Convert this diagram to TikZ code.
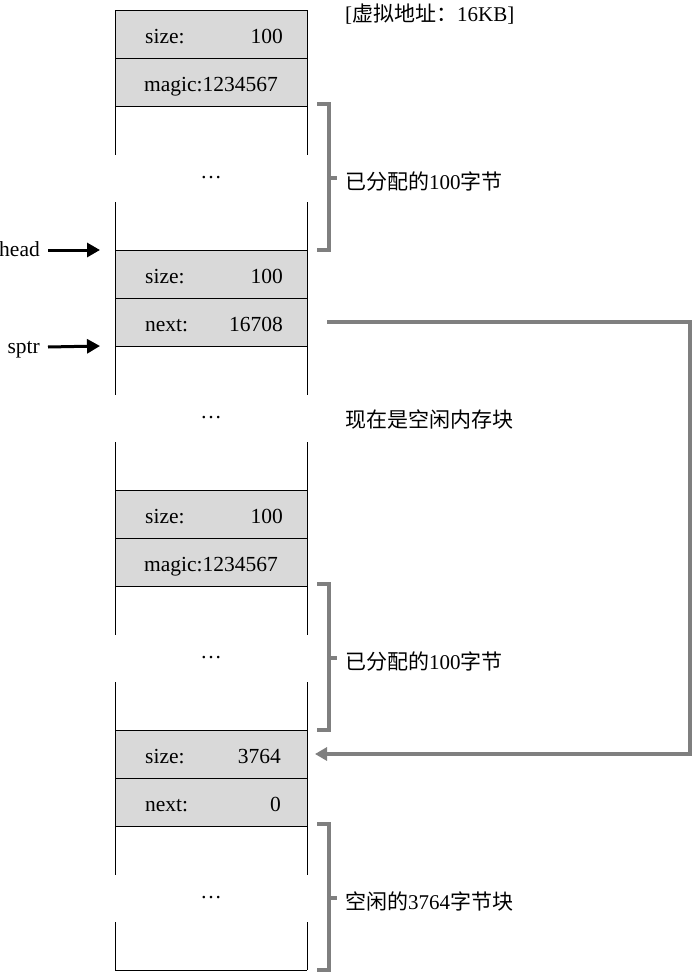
\documentclass[tikz,border=0pt]{standalone}
\usepackage{fontspec}
\setmainfont{Liberation Serif}
\newfontfamily\cjk{Noto Sans CJK SC}
\usetikzlibrary{arrows.meta}
\definecolor{cellgray}{HTML}{D9D9D9}
\definecolor{linegray}{HTML}{7F7F7F}
\begin{document}
\begin{tikzpicture}[x=1pt,y=-1pt,
  cell/.style={draw=black, line width=0.8pt, fill=cellgray, minimum width=192pt, minimum height=48pt, inner sep=0pt, outer sep=0pt},
  gapbox/.style={minimum width=192pt, minimum height=144pt, inner sep=0pt, outer sep=0pt},
  side/.style={draw=black, line width=0.8pt},
  txt/.style={font=\fontsize{21.5}{24}\selectfont, inner sep=0pt},
  lbl/.style={font=\fontsize{21}{24}\selectfont, inner sep=0pt, anchor=base west},
  ptr/.style={draw=black, line width=3pt, -{Triangle[length=13pt,width=14pt]}},
  brk/.style={draw=linegray, line width=4.5pt},
  conn/.style={draw=linegray, line width=4.5pt, -{Triangle[length=12pt,width=13pt]}}]
\useasboundingbox (0,0) rectangle (694,974);

% column of memory
\node[cell] (r1) at (211,34) {};
\node[cell] (r2) at (211,82) {};
\node[gapbox] (w1) at (211,178) {};
\node[cell] (r3) at (211,274) {};
\node[cell] (r4) at (211,322) {};
\node[gapbox] (w2) at (211,418) {};
\node[cell] (r5) at (211,514) {};
\node[cell] (r6) at (211,562) {};
\node[gapbox] (w3) at (211,658) {};
\node[cell] (r7) at (211,754) {};
\node[cell] (r8) at (211,802) {};
\node[gapbox] (w4) at (211,898) {};

% side lines of white regions
\foreach \w in {w1,w2,w3,w4}{
  \draw[side] (\w.north west) -- ++(0,49);
  \draw[side] (\w.south west) -- ++(0,-48);
  \draw[side] (\w.north east) -- ++(0,49);
  \draw[side] (\w.south east) -- ++(0,-48);
}
\draw[side] (w4.south west) -- (w4.south east);

% cell texts
\node[txt, anchor=base west] (s1) at ([shift={(30,9.5)}]r1.west) {size:};
\node[txt, anchor=base east] (v1) at ([shift={(-24,9.5)}]r1.east) {100};
\node[txt, anchor=base] (m1) at ([shift={(0,9.5)}]r2.center) {magic:1234567};
\node[txt, anchor=base west] (s2) at ([shift={(30,9.5)}]r3.west) {size:};
\node[txt, anchor=base east] (v2) at ([shift={(-24,9.5)}]r3.east) {100};
\node[txt, anchor=base west] (n1) at ([shift={(30,9.5)}]r4.west) {next:};
\node[txt, anchor=base east] (v3) at ([shift={(-24,9.5)}]r4.east) {16708};
\node[txt, anchor=base west] (s3) at ([shift={(30,9.5)}]r5.west) {size:};
\node[txt, anchor=base east] (v4) at ([shift={(-24,9.5)}]r5.east) {100};
\node[txt, anchor=base] (m2) at ([shift={(0,9.5)}]r6.center) {magic:1234567};
\node[txt, anchor=base west] (s4) at ([shift={(30,9.5)}]r7.west) {size:};
\node[txt, anchor=base east] (v5) at ([shift={(-26,9.5)}]r7.east) {3764};
\node[txt, anchor=base west] (n2) at ([shift={(30,9.5)}]r8.west) {next:};
\node[txt, anchor=base east] (v6) at ([shift={(-26,9.5)}]r8.east) {0};

\node[txt, anchor=base] (d1) at (w1.center) {…};
\node[txt, anchor=base] (d2) at (w2.center) {…};
\node[txt, anchor=base] (d3) at (w3.center) {…};
\node[txt, anchor=base] (d4) at (w4.center) {…};

% brackets
\foreach \w in {w1,w3,w4}{
  \draw[brk] ([shift={(10,-2)}]\w.north east) -- ++(12,0) -- ([shift={(22,0)}]\w.south east) -- ++(-12,0);
  \draw[brk] ([xshift=22]\w.east) -- ++(8,0);
}
\node[lbl] (b1) at ([shift={(38,11)}]w1.east) {{\cjk 已分配的}100{\cjk 字节}};
\node[lbl] (b3) at ([shift={(38,11)}]w3.east) {{\cjk 已分配的}100{\cjk 字节}};
\node[lbl] (b4) at ([shift={(38,11)}]w4.east) {{\cjk 空闲的}3764{\cjk 字节块}};

% other labels
\node[lbl] (title) at (345,22) {[{\cjk 虚拟地址：}16KB]};
\node[lbl] (freelbl) at (345,427) {\cjk 现在是空闲内存块};

% pointers
\node[txt, anchor=base east] (head) at (40,256) {head};
\node[txt, anchor=base east] (sptr) at (40,353) {sptr};
\draw[ptr] ([shift={(8,-6)}]head.base east) -- ([xshift=-15]r3.north west);
\draw[ptr] ([shift={(8,-6)}]sptr.base east) -- ([xshift=-15]r4.south west);

% free list link
\coordinate (turn) at (690,322);
\draw[conn] ([xshift=20]r4.east) -- (turn) |- ([xshift=8]r7.east);
\end{tikzpicture}
\end{document}
